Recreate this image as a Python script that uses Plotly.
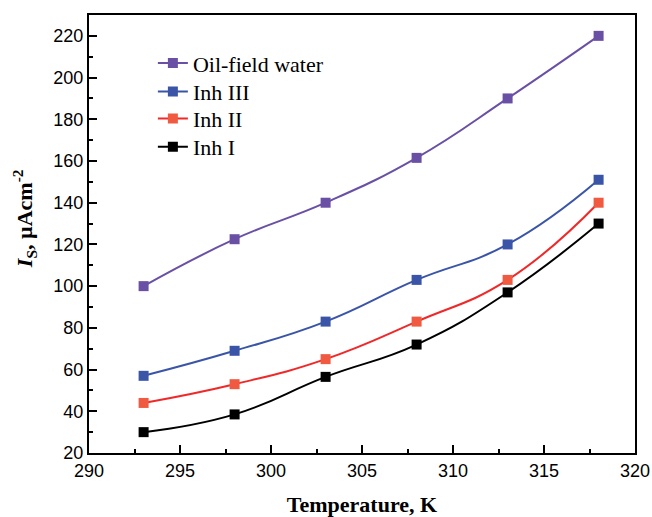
import plotly.graph_objects as go

temperature = [293, 298, 303, 308, 313, 318]
oil_field_water = [100, 122.5, 140, 161.5, 190, 220]
inh_iii = [57, 69, 83, 103, 120, 151]
inh_ii = [44, 53, 65, 83, 103, 140]
inh_i = [30, 38.5, 56.5, 72, 97, 130]

series = [
    ("Oil-field water", oil_field_water, "#6A50A4", "#6A50A4"),
    ("Inh III", inh_iii, "#3A55A8", "#3A55A8"),
    ("Inh II", inh_ii, "#F02828", "#F05A40"),
    ("Inh I", inh_i, "#000000", "#000000"),
]
legend_names = ["legend", "legend2", "legend3", "legend4"]
legend_y = [0.890, 0.825, 0.763, 0.699]

fig = go.Figure()
for (name, vals, lc, mc), lg in zip(series, legend_names):
    fig.add_trace(go.Scatter(
        x=temperature, y=vals, name=name, mode="lines+markers",
        line=dict(color=lc, width=2, shape="spline", smoothing=1.3),
        marker=dict(symbol="square", size=10, color=mc),
        legend=lg,
    ))

axis_common = dict(
    showline=True, linecolor="black", linewidth=2, mirror=True,
    ticks="inside", ticklen=8, tickwidth=2, tickcolor="black",
    showgrid=False, zeroline=False, automargin=False,
    tickfont=dict(family="Liberation Sans, Arial", size=18, color="black"),
)

fig.update_xaxes(
    range=[290, 320], dtick=5, tick0=290,
    minor=dict(ticks="inside", ticklen=4, tickwidth=2, tickcolor="black", dtick=2.5),
    title=dict(text="<b>Temperature, K</b>",
               font=dict(family="Liberation Serif, Times New Roman", size=22, color="black"),
               standoff=20),
    **axis_common,
)
fig.update_yaxes(
    range=[20, 230], dtick=20, tick0=20,
    minor=dict(ticks="inside", ticklen=4, tickwidth=2, tickcolor="black", dtick=10),
    **axis_common,
)

fig.add_annotation(
    text="<b><i>I</i><sub>S</sub>, µAcm<sup>-2</sup></b>",
    xref="paper", yref="paper", x=-0.119, y=0.534,
    xanchor="center", yanchor="middle", textangle=-90, showarrow=False,
    font=dict(family="Liberation Serif, Times New Roman", size=22, color="black"),
)

legend_common = dict(
    x=0.117, xanchor="left", yanchor="middle",
    bgcolor="rgba(0,0,0,0)", borderwidth=0,
    font=dict(family="Liberation Serif, Times New Roman", size=22, color="black"),
)

fig.update_layout(
    width=652, height=517,
    margin=dict(l=89, r=17, t=15, b=64),
    paper_bgcolor="white", plot_bgcolor="white",
    showlegend=True,
    legend=dict(y=legend_y[0], **legend_common),
    legend2=dict(y=legend_y[1], **legend_common),
    legend3=dict(y=legend_y[2], **legend_common),
    legend4=dict(y=legend_y[3], **legend_common),
)

fig.write_html("out.html")
